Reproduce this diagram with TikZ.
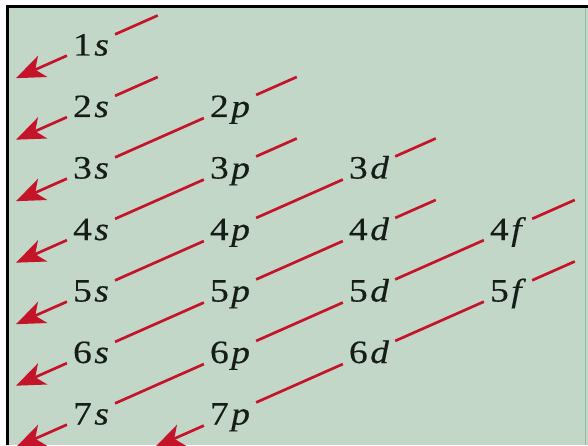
\documentclass[tikz,border=0pt]{standalone}
\usepackage{fontspec}
\usepackage{tikz}
\usetikzlibrary{arrows.meta}
\newfontfamily\orbfont[FakeStretch=1.15,FakeBold=0.4]{Liberation Serif}
\newcommand{\orb}[2]{#1\kern2.5pt\textit{#2}}
\definecolor{slidegreen}{RGB}{194,215,199}
\definecolor{edgegreen}{RGB}{150,190,160}
\definecolor{rayred}{RGB}{196,20,42}
\definecolor{inkblack}{RGB}{22,28,24}
\tikzset{
  orb/.style={font=\orbfont\fontsize{32.5}{33}\selectfont,text=inkblack,
              text height=21pt,text depth=0pt,inner xsep=6pt,inner ysep=4pt},
  ray/.style={draw=rayred,line width=2.7pt},
  fall/.style={ray,-{Stealth[length=29pt,width=23pt,inset=8pt]}},
}

\begin{document}
\begin{tikzpicture}[x=1pt,y=1pt]
  \useasboundingbox (0,0) rectangle (588,445);
  \clip (0,0) rectangle (588,445);
  \fill[white] (0,0) rectangle (588,445);
  \fill[slidegreen] (7.5,0) rectangle (588,438.5);
  \draw[edgegreen,line width=1.5pt] (585.5,0) -- (585.5,438.5);
  \draw[black,line width=3pt] (7.5,0) -- (7.5,438.5) -- (588,438.5);

  % labels
  \node[orb] (s1) at (91,400)   {\orb{1}{s}};
  \node[orb] (s2) at (91,338.5) {\orb{2}{s}};
  \node[orb] (s3) at (91,277)   {\orb{3}{s}};
  \node[orb] (s4) at (91,215.5) {\orb{4}{s}};
  \node[orb] (s5) at (91,154)   {\orb{5}{s}};
  \node[orb] (s6) at (91,92.5)  {\orb{6}{s}};
  \node[orb] (s7) at (91,31)    {\orb{7}{s}};
  \node[orb] (p2) at (230,338.5) {\orb{2}{p}};
  \node[orb] (p3) at (230,277)   {\orb{3}{p}};
  \node[orb] (p4) at (230,215.5) {\orb{4}{p}};
  \node[orb] (p5) at (230,154)   {\orb{5}{p}};
  \node[orb] (p6) at (230,92.5)  {\orb{6}{p}};
  \node[orb] (p7) at (230,31)    {\orb{7}{p}};
  \node[orb] (d3) at (369,277)   {\orb{3}{d}};
  \node[orb] (d4) at (369,215.5) {\orb{4}{d}};
  \node[orb] (d5) at (369,154)   {\orb{5}{d}};
  \node[orb] (d6) at (369,92.5)  {\orb{6}{d}};
  \node[orb] (f4) at (508,215.5) {\orb{4}{f}};
  \node[orb] (f5) at (508,154)   {\orb{5}{f}};

  % stubs at the top of each diagonal
  \draw[ray] (s1) -- ++(23.87:73);
  \draw[ray] (s2) -- ++(23.87:73);
  \draw[ray] (p2) -- ++(23.87:73);
  \draw[ray] (p3) -- ++(23.87:73);
  \draw[ray] (d3) -- ++(23.87:73);
  \draw[ray] (d4) -- ++(23.87:73);
  \draw[ray] (f4) -- ++(23.87:73);
  \draw[ray] (f5) -- ++(23.87:73);

  % diagonals
  \draw[ray] (p2) -- (s3);
  \draw[ray] (p3) -- (s4);
  \draw[ray] (d3) -- (p4);
  \draw[ray] (p4) -- (s5);
  \draw[ray] (d4) -- (p5);
  \draw[ray] (p5) -- (s6);
  \draw[ray] (f4) -- (d5);
  \draw[ray] (d5) -- (p6);
  \draw[ray] (p6) -- (s7);
  \draw[ray] (f5) -- (d6);
  \draw[ray] (d6) -- (p7);

  % arrow heads
  \draw[fall] (s1) -- ++(203.87:82);
  \draw[fall] (s2) -- ++(203.87:82);
  \draw[fall] (s3) -- ++(203.87:82);
  \draw[fall] (s4) -- ++(203.87:82);
  \draw[fall] (s5) -- ++(203.87:82);
  \draw[fall] (s6) -- ++(203.87:82);
  \draw[fall] (s7) -- ++(203.87:82);
  \draw[fall] (p7) -- ++(203.87:82);
\end{tikzpicture}
\end{document}
